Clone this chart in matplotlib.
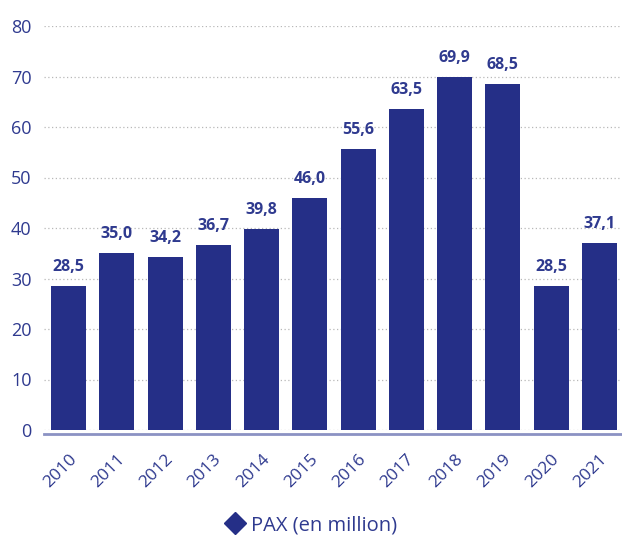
import matplotlib
matplotlib.use("Agg")
import matplotlib.pyplot as plt
from matplotlib.lines import Line2D

years = ["2010", "2011", "2012", "2013", "2014", "2015",
         "2016", "2017", "2018", "2019", "2020", "2021"]
pax = [28.5, 35.0, 34.2, 36.7, 39.8, 46.0, 55.6, 63.5, 69.9, 68.5, 28.5, 37.1]
y_ticks = [0, 10, 20, 30, 40, 50, 60, 70, 80]
legend_label = "PAX (en million)"

bar_color = "#252f87"
text_color = "#2f3a8f"
axis_color = "#8b92c3"
grid_color = "#b8b8b8"
font = ["Open Sans", "DejaVu Sans"]

plt.rcParams["font.family"] = font

fig = plt.figure(figsize=(6.22, 5.36), dpi=100)
ax = fig.add_axes([44 / 622, 106 / 536, 578 / 622, 404 / 536])

# spines first: moving a spine resets the tick objects
for side in ("top", "right", "left"):
    ax.spines[side].set_visible(False)
ax.spines["bottom"].set_color(axis_color)
ax.spines["bottom"].set_linewidth(2)
ax.spines["bottom"].set_position(("outward", 3))

x = list(range(len(years)))
ax.bar(x, pax, width=0.725, color=bar_color, zorder=3)

for xi, v in zip(x, pax):
    ax.annotate(f"{v:.1f}".replace(".", ","), (xi, v), xytext=(0, 8),
                textcoords="offset points", ha="center", va="bottom",
                fontsize=11.5, fontweight="bold", color=text_color)

ax.set_xlim(-0.51, 11.47)
ax.set_ylim(0, 80)
ax.set_yticks(y_ticks)
ax.set_xticks(x)
ax.tick_params(axis="x", length=0, pad=12, labelsize=12.5, labelcolor=text_color)
ax.tick_params(axis="y", length=0, pad=9, labelsize=13, labelcolor=text_color)
ax.set_xticklabels(years, rotation=45, ha="right", va="top", rotation_mode="anchor")

ax.yaxis.grid(True, linestyle=(0, (1, 2)), color=grid_color, linewidth=0.9, zorder=0)
ax.set_axisbelow(True)

handle = Line2D([], [], marker="D", linestyle="", color=bar_color, markersize=11)
fig.legend([handle], [legend_label], loc="center",
           bbox_to_anchor=(311 / 622, 1 - 525 / 536),
           frameon=False, fontsize=14.5, labelcolor=text_color,
           handletextpad=0.3, handlelength=1.0)

fig.savefig("out.png", dpi=100)
